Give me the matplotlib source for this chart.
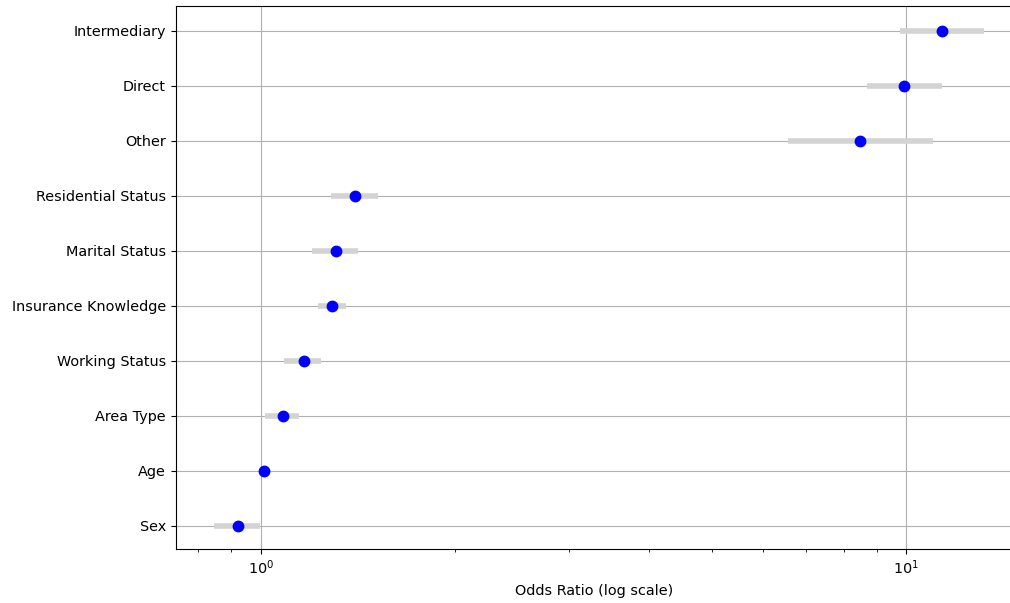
import numpy as np
import matplotlib
matplotlib.use('Agg')
import matplotlib.pyplot as plt

# odds ratios with confidence intervals
variables = ['Sex', 'Age', 'Area Type', 'Working Status', 'Insurance Knowledge',
             'Marital Status', 'Residential Status', 'Other', 'Direct', 'Intermediary']
odds_ratio = [0.921, 1.011, 1.082, 1.166, 1.289, 1.308, 1.40, 8.48, 9.93, 11.37]
ci_lower = [0.845, 1.004, 1.014, 1.086, 1.226, 1.200, 1.284, 6.56, 8.70, 9.79]
ci_upper = [0.996, 1.018, 1.146, 1.239, 1.355, 1.415, 1.520, 11.01, 11.37, 13.20]

plt.rcParams['font.size'] = 10.4

fig = plt.figure(figsize=(10.10, 6.03), dpi=100)
ax = fig.add_axes([0.174, 0.0896, 0.829, 0.9004])

ypos = np.arange(len(variables))
ax.hlines(ypos, ci_lower, ci_upper, color='lightgrey', linewidth=4, zorder=2)
ax.plot(odds_ratio, ypos, 'o', color='blue', markersize=7.5, zorder=3)

ax.set_xscale('log')
ax.set_xlim(0.738, 14.65)
ax.set_ylim(-0.42, len(variables) - 1 + 0.45)
ax.set_yticks(ypos)
ax.set_yticklabels(variables)
ax.set_xlabel('Odds Ratio (log scale)', labelpad=5)
ax.grid(True, color='#b0b0b0', zorder=0)
ax.set_axisbelow(True)

fig.savefig('out.png', dpi=100)
